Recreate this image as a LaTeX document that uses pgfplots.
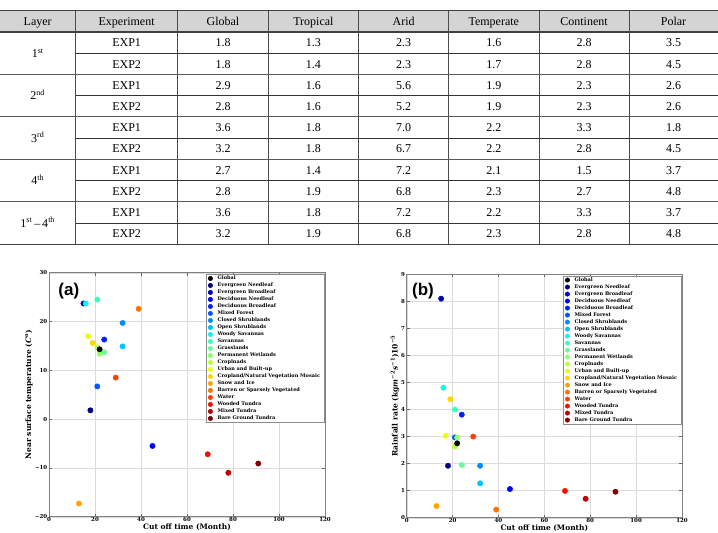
\documentclass[border=0pt]{standalone}
\usepackage{fontspec}
\setmainfont{Liberation Serif}
\newfontfamily\dvs{DejaVu Serif}
\newfontfamily\lsans{Liberation Sans}
\usepackage{pgfplots}
\pgfplotsset{compat=1.18}

\definecolor{cENF}{rgb}{0,0,0.5}
\definecolor{cEBF}{rgb}{0,0,0.74}
\definecolor{cDNF}{rgb}{0,0,0.98}
\definecolor{cDBF}{rgb}{0,0.13,1}
\definecolor{cMF}{rgb}{0,0.34,1}
\definecolor{cCS}{rgb}{0,0.55,1}
\definecolor{cOS}{rgb}{0,0.76,1}
\definecolor{cWS}{rgb}{0.06,0.97,0.91}
\definecolor{cSV}{rgb}{0.23,1,0.74}
\definecolor{cGR}{rgb}{0.4,1,0.57}
\definecolor{cWL}{rgb}{0.57,1,0.4}
\definecolor{cCR}{rgb}{0.74,1,0.23}
\definecolor{cUB}{rgb}{0.91,1,0.06}
\definecolor{cCN}{rgb}{1,0.84,0}
\definecolor{cSI}{rgb}{1,0.64,0}
\definecolor{cBA}{rgb}{1,0.45,0}
\definecolor{cWA}{rgb}{1,0.25,0}
\definecolor{cWT}{rgb}{0.98,0.06,0}
\definecolor{cMT}{rgb}{0.74,0,0}
\definecolor{cBT}{rgb}{0.5,0,0}

\newcommand\tickfont{\dvs\bfseries\fontsize{5.5}{6}\selectfont}
\newcommand\legfont{\dvs\bfseries\fontsize{5}{6}\selectfont}
\newcommand\labelfont{\dvs\bfseries\fontsize{7.5}{9}\selectfont}
\newcommand\tabfont{\fontsize{12}{14}\selectfont}

\newcommand\ipt[4]{\addplot[only marks, mark=*, mark size=2.7pt, color=#1] coordinates {(#2,#3)}; \addlegendentry{#4}}

\pgfplotsset{
  myaxis/.style={
    scale only axis,
    xmin=0, xmax=120, xtick={0,20,...,120},
    grid=major, major grid style={black!14, line width=0.4pt},
    axis line style={black!50, line width=0.9pt},
    tick style={black!60, line width=0.5pt},
    major tick length=3pt,
    tick align=inside,
    ticklabel style={font=\tickfont},
    /pgf/number format/assume math mode=true,
    xticklabel style={inner sep=1pt},
    yticklabel style={inner sep=1.5pt},
    xlabel={Cut off time (Month)},
    every axis x label/.style={at={(axis description cs:0.5,-0.045)}, anchor=center, font=\labelfont},
    legend cell align=left,
    legend image code/.code={\draw[##1, mark size=2.2pt] plot coordinates {(2.2pt,0pt)};},
    legend style={at={(rel axis cs:1,1)}, anchor=north east, xshift=-0.3pt, yshift=-1.5pt,
      draw=black!45, line width=0.5pt, fill=white, font=\legfont,
      inner xsep=2.4pt, inner ysep=0.5pt, row sep=0pt, column sep=3pt,
      nodes={inner xsep=2pt, inner ysep=0.9pt, text height=4pt, text depth=1.2pt}},
  }
}

\begin{document}
\begin{tikzpicture}
\path[use as bounding box] (0pt,0pt) rectangle (718pt,-533pt);

% ---------------- table ----------------
\begin{scope}[x=1pt, y=-1pt]
\fill[black!17] (0,11) rectangle (718,31);
\draw[line width=1.6pt, black!75] (0,10.5) -- (718,10.5);
\draw[line width=1.6pt, black!75] (0,32) -- (718,32);
\foreach \x in {75.5,177.7,268.3,358.5,448.7,539,629}
  \draw[black!70, line width=0.6pt] (\x,11) -- (\x,244);
\foreach \y in {53.2,95.6,138,180.4,222.8}
  \draw[black!80, line width=0.5pt] (75.5,\y) -- (718,\y);
\foreach \y in {74.4,116.8,159.2,201.6}
  \draw[black!65, line width=1pt] (0,\y) -- (718,\y);
\draw[black!75, line width=1pt] (0,244) -- (718,244);

\foreach \t/\x in {Layer/37.7, Experiment/126.6, Global/223, Tropical/313.4, Arid/403.6, Temperate/493.8, Continent/584, Polar/673.5}
  \node[anchor=base, font=\tabfont, inner sep=0pt] at (\x,25.2) {\t};

\foreach \l [count=\i from 0] in {1\textsuperscript{st}, 2\textsuperscript{nd}, 3\textsuperscript{rd}, 4\textsuperscript{th}, 1\textsuperscript{st}\,–\,4\textsuperscript{th}}
  \node[anchor=base, font=\tabfont, inner sep=0pt] at (37.7,{32+42.4*\i+21.2+4.2}) {\l};

\foreach \e/\a/\b/\c/\d/\f/\g [count=\i from 0] in {
  EXP1/1.8/1.3/2.3/1.6/2.8/3.5,
  EXP2/1.8/1.4/2.3/1.7/2.8/4.5,
  EXP1/2.9/1.6/5.6/1.9/2.3/2.6,
  EXP2/2.8/1.6/5.2/1.9/2.3/2.6,
  EXP1/3.6/1.8/7.0/2.2/3.3/1.8,
  EXP2/3.2/1.8/6.7/2.2/2.8/4.5,
  EXP1/2.7/1.4/7.2/2.1/1.5/3.7,
  EXP2/2.8/1.9/6.8/2.3/2.7/4.8,
  EXP1/3.6/1.8/7.2/2.2/3.3/3.7,
  EXP2/3.2/1.9/6.8/2.3/2.8/4.8}
{
  \pgfmathsetmacro\yy{32+21.2*\i+10.6+4.2}
  \node[anchor=base, font=\tabfont, inner sep=0pt] at (126.6,\yy) {\e};
  \node[anchor=base, font=\tabfont, inner sep=0pt] at (223,\yy) {\a};
  \node[anchor=base, font=\tabfont, inner sep=0pt] at (313.4,\yy) {\b};
  \node[anchor=base, font=\tabfont, inner sep=0pt] at (403.6,\yy) {\c};
  \node[anchor=base, font=\tabfont, inner sep=0pt] at (493.8,\yy) {\d};
  \node[anchor=base, font=\tabfont, inner sep=0pt] at (584,\yy) {\f};
  \node[anchor=base, font=\tabfont, inner sep=0pt] at (673.5,\yy) {\g};
}
\end{scope}

% ---------------- panel (a) ----------------
\begin{axis}[myaxis,
  at={(49pt,-516.7pt)}, anchor=south west, width=276pt, height=244pt,
  ymin=-20, ymax=30, ytick={-20,-10,0,10,20,30},
  yticklabels={−20,−10,0,10,20,30},
  ylabel={Near surface temperature (\textit{C}\textsuperscript{o})},
  every axis y label/.style={at={(axis description cs:-0.0725,0.5)}, rotate=90, anchor=center, font=\labelfont},
]
\addlegendimage{only marks, mark=*, color=black}
\addlegendentry{Global}
\ipt{cENF}{18}{1.8}{Evergreen Needleaf}
\ipt{cEBF}{15}{23.7}{Evergreen Broadleaf}
\ipt{cDNF}{45}{-5.5}{Deciduous Needleaf}
\ipt{cDBF}{24}{16.3}{Deciduous Broadleaf}
\ipt{cMF}{21}{6.7}{Mixed Forest}
\ipt{cCS}{32}{19.7}{Closed Shrublands}
\ipt{cOS}{32}{14.9}{Open Shrublands}
\ipt{cWS}{16}{23.7}{Woody Savannas}
\ipt{cSV}{21}{24.5}{Savannas}
\ipt{cGR}{24}{13.7}{Grasslands}
\ipt{cWL}{22}{13.4}{Permanent Wetlands}
\ipt{cCR}{21}{14.7}{Croplnads}
\ipt{cUB}{17}{17.0}{Urban and Built-up}
\ipt{cCN}{19}{15.6}{Cropland/Natural Vegetation Mosaic}
\ipt{cSI}{13}{-17.3}{Snow and Ice}
\ipt{cBA}{39}{22.6}{Barren or Sparsely Vegetated}
\ipt{cWA}{29}{8.5}{Water}
\ipt{cWT}{69}{-7.2}{Wooded Tundra}
\ipt{cMT}{78}{-11.0}{Mixed Tundra}
\ipt{cBT}{91}{-9.1}{Bare Ground Tundra}
\addplot[forget plot, only marks, mark=*, mark size=2.7pt, color=black] coordinates {(22,14.3)};
\node[font=\lsans\bfseries\fontsize{17}{17}\selectfont, inner sep=0pt] at (rel axis cs:0.072,0.925) {(a)};
\end{axis}

% ---------------- panel (b) ----------------
\begin{axis}[myaxis,
  at={(406.7pt,-517.7pt)}, anchor=south west, width=275.3pt, height=243.4pt,
  ymin=0, ymax=9, ytick={0,1,...,9},
  ylabel={Rainfall rate (kg\textit{m}\textsuperscript{−2}\textit{s}\textsuperscript{−1})10\textsuperscript{−5}},
  every axis y label/.style={at={(axis description cs:-0.0425,0.5)}, rotate=90, anchor=center, font=\labelfont},
]
\addlegendimage{only marks, mark=*, color=black}
\addlegendentry{Global}
\ipt{cENF}{18}{1.92}{Evergreen Needleaf}
\ipt{cEBF}{15}{8.1}{Evergreen Broadleaf}
\ipt{cDNF}{45}{1.06}{Deciduous Needleaf}
\ipt{cDBF}{24}{3.81}{Deciduous Broadleaf}
\ipt{cMF}{21}{2.97}{Mixed Forest}
\ipt{cCS}{32}{1.92}{Closed Shrublands}
\ipt{cOS}{32}{1.27}{Open Shrublands}
\ipt{cWS}{16}{4.81}{Woody Savannas}
\ipt{cSV}{21}{4.0}{Savannas}
\ipt{cGR}{24}{1.95}{Grasslands}
\ipt{cWL}{22}{2.96}{Permanent Wetlands}
\ipt{cCR}{21}{2.63}{Croplnads}
\ipt{cUB}{17}{3.03}{Urban and Built-up}
\ipt{cCN}{19}{4.38}{Cropland/Natural Vegetation Mosaic}
\ipt{cSI}{13}{0.43}{Snow and Ice}
\ipt{cBA}{39}{0.3}{Barren or Sparsely Vegetated}
\ipt{cWA}{29}{3.0}{Water}
\ipt{cWT}{69}{0.99}{Wooded Tundra}
\ipt{cMT}{78}{0.7}{Mixed Tundra}
\ipt{cBT}{91}{0.96}{Bare Ground Tundra}
\addplot[forget plot, only marks, mark=*, mark size=2.7pt, color=black] coordinates {(22,2.75)};
\node[font=\lsans\bfseries\fontsize{17}{17}\selectfont, inner sep=0pt] at (rel axis cs:0.059,0.931) {(b)};
\end{axis}
\end{tikzpicture}
\end{document}
